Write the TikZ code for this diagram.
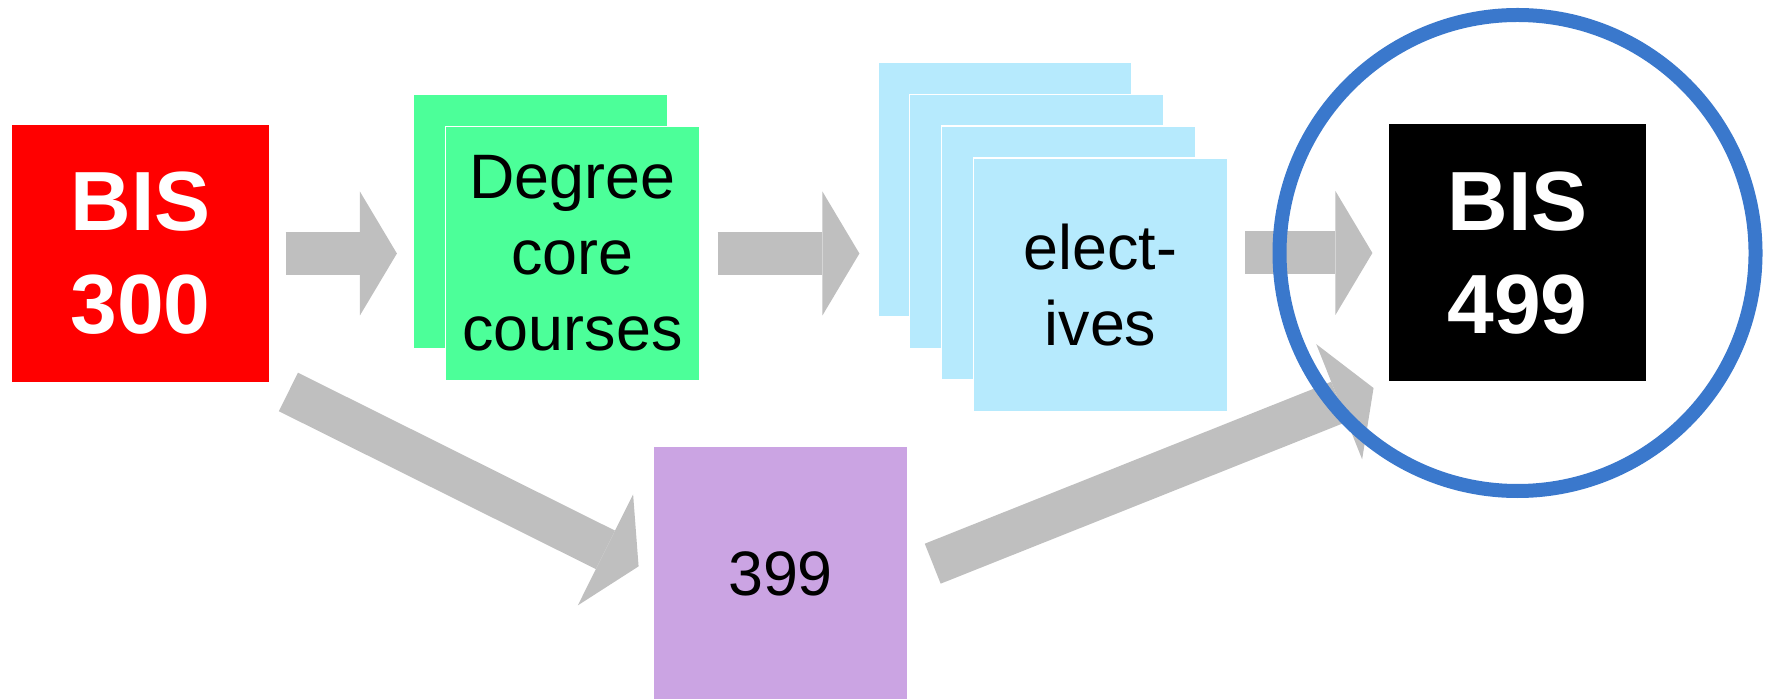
\documentclass[tikz,border=0pt]{standalone}
\usepackage{fontspec}
\setmainfont{Liberation Sans}
\usetikzlibrary{arrows.meta}
\definecolor{bisred}{RGB}{255,0,0}
\definecolor{coregreen}{RGB}{76,255,153}
\definecolor{elecblue}{RGB}{182,234,253}
\definecolor{purple399}{RGB}{203,164,227}
\definecolor{arrowgray}{RGB}{191,191,191}
\definecolor{ringblue}{RGB}{58,120,204}
\tikzstyle{coursebox}=[fill=#1,draw=white,line width=0.6pt,minimum size=127pt,inner sep=0pt,align=center,font=\fontsize{31.4}{38}\selectfont]
\tikzstyle{bisbox}=[coursebox=#1,draw=none,minimum size=128.5pt,text=white,font=\fontsize{42}{51.5}\selectfont\bfseries]
\newcommand{\course}[4]{\node[#1] (#2) at (#3) {#4};}
\newcommand{\flow}[4]{ \draw[fat,shorten <=#2,shorten >=#3] (#1) -- (#4);}
\tikzset{
	fat/.style={draw=arrowgray,line width=21.5pt,-{Triangle[width=62pt,length=18.5pt,line width=0pt]}},
}

\begin{document}
\begin{tikzpicture}[x=0.5pt,y=-0.5pt]
    \useasboundingbox (0,0) rectangle (1770,699);

    \course{bisbox=bisred}{bis300}{140.5,253.5}{BIS\\300}
    \course{coursebox=coregreen}{coreback}{540.5,221.5}{}
    \course{coursebox=coregreen}{core}{572.5,253.5}{Degree\\core\\courses}
    \course{coursebox=elecblue}{elec1}{1005,189.5}{}
    \course{coursebox=elecblue}{elec2}{1036.8,221.3}{}
    \course{coursebox=elecblue}{elec3}{1068.6,253.1}{}
    \course{coursebox=elecblue}{elec4}{1100.5,285}{elect-\\ives}
    \course{coursebox=purple399}{c399}{780.5,573.5}{399}
    \course{bisbox=black}{bis499}{1517.5,253}{BIS\\499}

    \flow{bis300.east}{8pt}{8pt}{bis300.east -| coreback.west}
    \flow{core.east}{8.75pt}{9pt}{core.east -| elec1.west}
    \flow{elec4.east |- bis499.west}{8.5pt}{8pt}{bis499.west}
    \flow{bis300.south east}{10.5pt}{8pt}{c399.west}
    \flow{c399.east}{13.25pt}{8pt}{bis499.south west}

    \node[draw=ringblue,line width=7pt,circle,minimum size=238pt,inner sep=0pt] (ring) at (bis499) {};
\end{tikzpicture}
\end{document}
